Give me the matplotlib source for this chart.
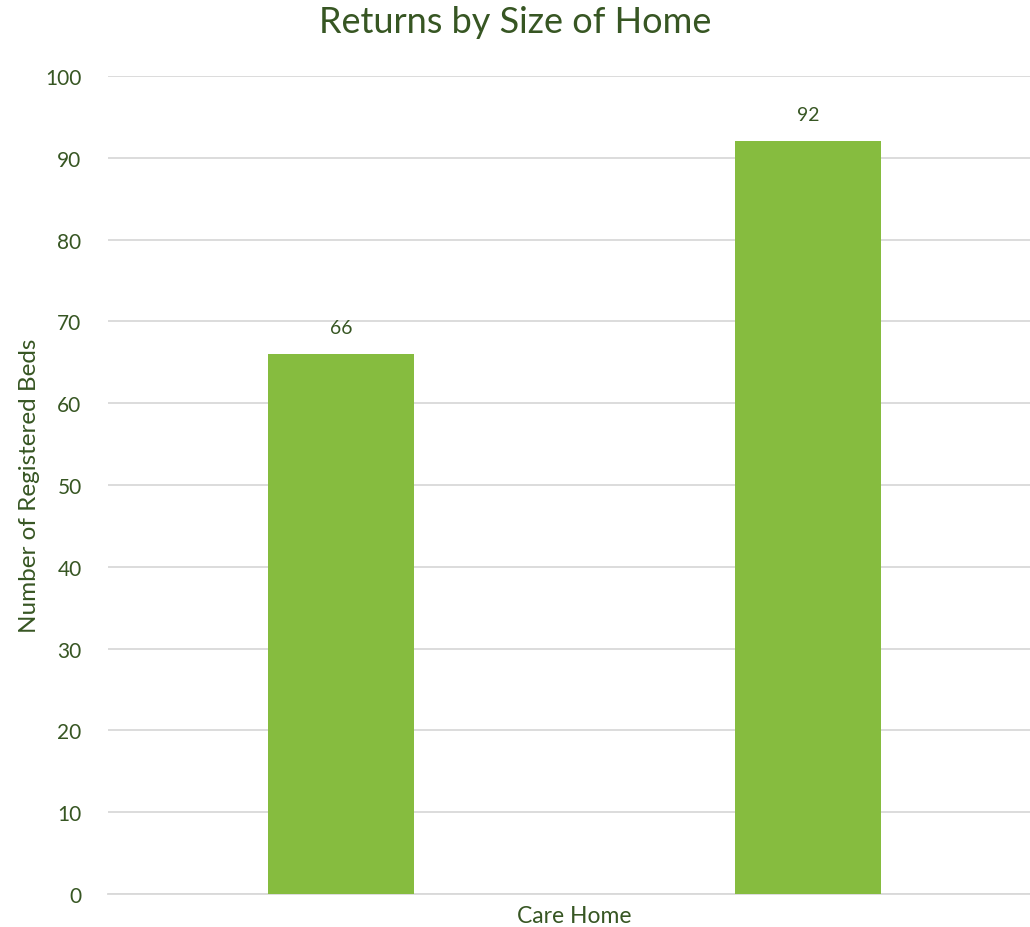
import matplotlib

matplotlib.use("Agg")
import matplotlib.pyplot as plt

category = "Care Home"
series_values = [66, 92]
y_ticks = [0, 10, 20, 30, 40, 50, 60, 70, 80, 90, 100]

GREEN = "#86BC3F"
TEXT = "#375623"

plt.rcParams["font.family"] = ["Lato", "DejaVu Sans"]

fig = plt.figure(figsize=(10.3, 9.28), dpi=100)
ax = fig.add_axes([108 / 1030, 33 / 928, 922 / 1030, 818 / 928])

offsets = [-0.25, 0.25]
bars = ax.bar(offsets, series_values, width=0.1565, color=GREEN, zorder=3)
for b, v in zip(bars, series_values):
    ax.text(b.get_x() + b.get_width() / 2, v + 2.2, f"{v}", ha="center",
            va="bottom", fontsize=14, color=TEXT)

ax.set_xlim(-0.5, 0.488)
ax.set_ylim(0, 100)
ax.set_yticks(y_ticks)
ax.set_xticks([0])
ax.set_xticklabels([category])
ax.yaxis.grid(True, color="#D9D9D9", linewidth=1.3, zorder=0)
for s in ("top", "right", "left"):
    ax.spines[s].set_visible(False)
ax.spines["bottom"].set_color("#D9D9D9")
ax.spines["bottom"].set_linewidth(1.3)
ax.tick_params(axis="both", length=0, labelcolor=TEXT)
ax.tick_params(axis="y", pad=19, labelsize=15)
ax.tick_params(axis="x", pad=8, labelsize=16.5)
ax.set_ylabel("Number of Registered Beds", fontsize=17.5, color=TEXT, labelpad=4)
fig.text(0.5, 0.976, "Returns by Size of Home", ha="center", va="center",
         fontsize=26, color=TEXT)

fig.savefig("out.png", dpi=100)
